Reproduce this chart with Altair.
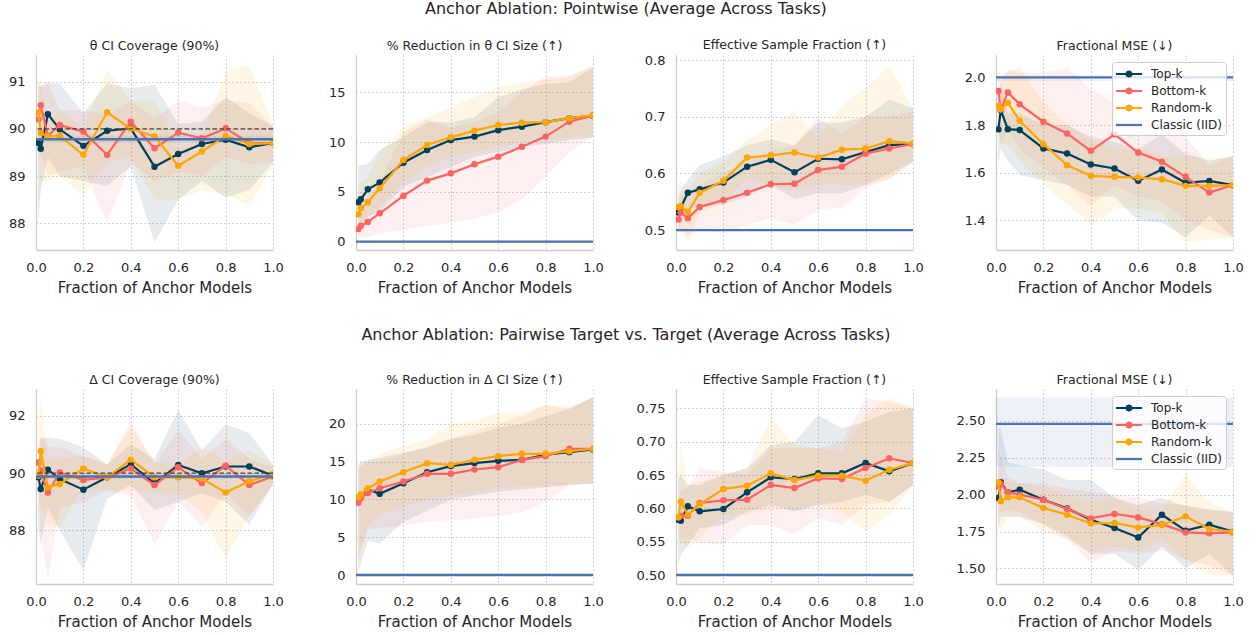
import altair as alt
import pandas as pd

# ---------------- data ----------------
X = [0.01, 0.02, 0.05, 0.1, 0.2, 0.3, 0.4, 0.5, 0.6, 0.7, 0.8, 0.9, 1.0]
X_SPAN = [0.0, 1.0]
X_TICKS = [0.0, 0.2, 0.4, 0.6, 0.8, 1.0]
SERIES = ["Top-k", "Bottom-k", "Random-k", "Classic (IID)"]
COLORS = ["#003f5c", "#ff6361", "#ffa600", "#4c72b0"]

# Row 1 : Pointwise
pt_cov_top = [89.70, 89.58, 90.31, 89.99, 89.64, 89.96, 90.01, 89.20, 89.47, 89.68, 89.77, 89.61, 89.70]
pt_cov_top_lo = [88.10, 88.70, 89.40, 89.00, 88.90, 88.80, 89.20, 87.60, 88.50, 88.90, 88.55, 88.70, 89.30]
pt_cov_top_hi = [90.90, 90.90, 90.96, 90.96, 90.33, 90.96, 90.86, 90.93, 90.10, 90.15, 90.68, 90.33, 90.05]
pt_cov_bot = [90.20, 90.50, 89.85, 90.08, 89.94, 89.45, 90.15, 89.59, 89.92, 89.80, 90.01, 89.70, 89.70]
pt_cov_bot_lo = [89.20, 89.50, 89.00, 89.10, 89.20, 88.00, 89.30, 88.90, 89.10, 89.00, 89.40, 89.25, 89.30]
pt_cov_bot_hi = [91.00, 90.90, 91.00, 90.40, 90.40, 90.30, 90.60, 90.20, 90.60, 90.45, 90.60, 90.55, 90.05]
pt_cov_rnd = [90.35, 89.91, 89.84, 89.85, 89.45, 90.35, 90.00, 89.84, 89.22, 89.52, 89.85, 89.68, 89.70]
pt_cov_rnd_lo = [87.80, 88.90, 88.90, 89.00, 88.60, 89.30, 89.40, 88.50, 88.50, 88.70, 88.60, 88.40, 89.20]
pt_cov_rnd_hi = [91.00, 91.00, 90.20, 90.40, 90.00, 91.25, 90.60, 90.60, 89.60, 89.80, 91.20, 91.35, 90.10]
pt_cov_classic = [89.78, 89.70, 89.86]

pt_red_top = [3.95, 4.25, 5.26, 5.93, 7.93, 9.20, 10.20, 10.55, 11.20, 11.55, 12.00, 12.40, 12.65]
pt_red_top_lo = [0.5, 1.5, 2.5, 3.0, 5.5, 6.5, 7.5, 8.5, 9.0, 9.5, 9.8, 10.2, 10.4]
pt_red_top_hi = [7.7, 7.7, 7.8, 9.2, 10.5, 12.0, 12.0, 12.5, 14.5, 15.3, 15.8, 16.0, 17.5]
pt_red_bot = [1.27, 1.57, 1.98, 2.85, 4.59, 6.13, 6.86, 7.77, 8.54, 9.54, 10.55, 12.05, 12.65]
pt_red_bot_lo = [0.3, 0.4, 0.5, 0.8, 1.2, 1.6, 1.9, 2.3, 3.0, 4.2, 6.5, 9.0, 10.5]
pt_red_bot_hi = [3.5, 3.8, 4.5, 6.0, 11.0, 12.3, 11.5, 12.0, 13.0, 15.0, 16.6, 16.7, 17.5]
pt_red_rnd = [2.75, 3.35, 3.95, 5.36, 8.20, 9.71, 10.48, 11.15, 11.72, 11.95, 12.00, 12.40, 12.72]
pt_red_rnd_lo = [1.0, 1.5, 2.5, 3.5, 6.0, 7.5, 8.5, 9.0, 9.5, 10.0, 10.2, 10.4, 10.5]
pt_red_rnd_hi = [5.5, 6.0, 6.5, 9.0, 11.5, 12.5, 13.5, 14.5, 15.5, 16.0, 16.3, 16.5, 17.8]
pt_red_classic = [0.0, 0.0, 0.0]

pt_esf_top = [0.531, 0.540, 0.566, 0.572, 0.584, 0.612, 0.624, 0.602, 0.626, 0.625, 0.638, 0.650, 0.652]
pt_esf_top_lo = [0.50, 0.51, 0.54, 0.54, 0.545, 0.56, 0.58, 0.555, 0.565, 0.565, 0.58, 0.60, 0.62]
pt_esf_top_hi = [0.56, 0.57, 0.59, 0.615, 0.63, 0.65, 0.66, 0.65, 0.69, 0.69, 0.70, 0.73, 0.715]
pt_esf_bot = [0.519, 0.531, 0.521, 0.541, 0.553, 0.566, 0.581, 0.582, 0.606, 0.612, 0.635, 0.644, 0.652]
pt_esf_bot_lo = [0.49, 0.50, 0.49, 0.50, 0.495, 0.51, 0.52, 0.51, 0.535, 0.54, 0.575, 0.59, 0.62]
pt_esf_bot_hi = [0.55, 0.56, 0.56, 0.58, 0.60, 0.62, 0.64, 0.65, 0.70, 0.67, 0.70, 0.70, 0.71]
pt_esf_rnd = [0.541, 0.542, 0.532, 0.566, 0.587, 0.628, 0.632, 0.637, 0.628, 0.642, 0.644, 0.657, 0.653]
pt_esf_rnd_lo = [0.50, 0.50, 0.48, 0.53, 0.55, 0.59, 0.58, 0.57, 0.58, 0.58, 0.58, 0.59, 0.625]
pt_esf_rnd_hi = [0.58, 0.59, 0.57, 0.60, 0.62, 0.66, 0.685, 0.71, 0.66, 0.72, 0.75, 0.79, 0.715]
pt_esf_classic = [0.5, 0.5, 0.5]

pt_mse_top = [1.782, 1.863, 1.783, 1.779, 1.702, 1.681, 1.635, 1.618, 1.566, 1.614, 1.558, 1.566, 1.548]
pt_mse_top_lo = [1.63, 1.70, 1.65, 1.59, 1.57, 1.55, 1.50, 1.50, 1.40, 1.39, 1.33, 1.42, 1.33]
pt_mse_top_hi = [1.90, 1.98, 1.85, 1.85, 1.80, 1.80, 1.75, 1.73, 1.70, 1.76, 1.68, 1.65, 1.67]
pt_mse_bot = [1.943, 1.866, 1.937, 1.887, 1.814, 1.765, 1.692, 1.761, 1.685, 1.646, 1.583, 1.517, 1.548]
pt_mse_bot_lo = [1.80, 1.72, 1.78, 1.70, 1.62, 1.55, 1.46, 1.55, 1.50, 1.48, 1.40, 1.36, 1.33]
pt_mse_bot_hi = [2.05, 2.00, 2.03, 2.02, 2.02, 2.04, 1.95, 1.90, 1.80, 1.80, 1.75, 1.63, 1.67]
pt_mse_rnd = [1.880, 1.866, 1.894, 1.818, 1.720, 1.632, 1.587, 1.583, 1.580, 1.573, 1.545, 1.545, 1.548]
pt_mse_rnd_lo = [1.75, 1.72, 1.72, 1.65, 1.55, 1.47, 1.38, 1.45, 1.45, 1.43, 1.31, 1.32, 1.33]
pt_mse_rnd_hi = [1.98, 1.98, 2.03, 2.04, 1.90, 1.80, 1.74, 1.70, 1.70, 1.67, 1.67, 1.66, 1.66]
pt_mse_classic = [2.0, 1.985, 2.008]

# Row 2 : Pairwise target vs. target
pw_cov_top = [89.85, 89.44, 90.12, 89.79, 89.42, 89.85, 90.31, 89.64, 90.28, 89.99, 90.23, 90.23, 89.91]
pw_cov_top_lo = [88.0, 87.5, 88.8, 88.0, 86.6, 89.1, 89.6, 88.7, 89.0, 89.3, 89.0, 88.2, 89.6]
pw_cov_top_hi = [90.5, 91.2, 91.25, 91.2, 90.9, 90.3, 91.0, 90.5, 92.2, 90.8, 91.7, 91.4, 90.3]
pw_cov_bot = [90.37, 90.08, 89.32, 90.02, 89.76, 89.85, 90.16, 89.58, 90.20, 89.64, 90.26, 89.58, 89.88]
pw_cov_bot_lo = [89.5, 88.0, 86.3, 88.8, 89.0, 89.4, 89.2, 87.5, 89.0, 88.1, 89.3, 88.5, 89.6]
pw_cov_bot_hi = [91.0, 91.3, 90.9, 90.9, 90.6, 90.3, 91.8, 90.3, 91.5, 90.5, 91.2, 90.5, 90.2]
pw_cov_rnd = [89.91, 90.76, 89.50, 89.62, 90.16, 89.85, 90.47, 89.85, 89.85, 89.81, 89.32, 89.71, 89.96]
pw_cov_rnd_lo = [88.5, 89.0, 88.2, 88.1, 89.5, 89.4, 89.4, 89.3, 89.3, 88.6, 87.0, 88.5, 89.6]
pw_cov_rnd_hi = [91.5, 92.7, 90.5, 90.5, 90.6, 90.3, 91.6, 90.4, 90.3, 90.9, 90.4, 90.8, 90.3]
pw_cov_classic = [89.88, 89.80, 89.96]

pw_red_top = [10.07, 10.50, 11.30, 10.73, 12.14, 13.60, 14.40, 14.80, 15.10, 15.23, 15.90, 16.25, 16.60]
pw_red_top_lo = [0.5, 1.5, 4.5, 4.2, 7.0, 8.5, 10.0, 10.5, 11.0, 11.3, 11.6, 11.9, 12.1]
pw_red_top_hi = [14.5, 15.0, 15.2, 15.5, 16.2, 16.8, 18.0, 18.5, 19.5, 20.0, 21.0, 22.0, 23.5]
pw_red_bot = [9.54, 10.15, 10.86, 11.48, 12.36, 13.38, 13.38, 13.95, 14.26, 15.23, 15.72, 16.69, 16.69]
pw_red_bot_lo = [2.0, 3.5, 6.0, 6.2, 6.5, 7.0, 7.2, 7.5, 7.8, 8.3, 9.7, 11.9, 12.1]
pw_red_bot_hi = [14.0, 14.5, 14.8, 15.0, 16.0, 17.0, 18.0, 19.0, 20.0, 21.0, 22.5, 22.0, 23.5]
pw_red_rnd = [10.29, 10.64, 11.48, 12.36, 13.60, 14.79, 14.57, 15.23, 15.72, 16.03, 16.03, 16.38, 16.69]
pw_red_rnd_lo = [1.5, 3.0, 6.5, 8.0, 9.0, 10.0, 10.5, 11.0, 11.5, 11.7, 11.8, 12.0, 12.1]
pw_red_rnd_hi = [14.0, 14.5, 15.0, 16.0, 17.0, 18.0, 20.0, 20.5, 21.5, 21.5, 22.5, 22.2, 23.5]
pw_red_classic = [0.0, 0.0, 0.0]

pw_esf_top = [0.583, 0.5815, 0.603, 0.5955, 0.599, 0.624, 0.6465, 0.644, 0.6525, 0.6525, 0.668, 0.6555, 0.668]
pw_esf_top_lo = [0.515, 0.53, 0.545, 0.57, 0.575, 0.595, 0.605, 0.595, 0.605, 0.61, 0.62, 0.61, 0.635]
pw_esf_top_hi = [0.645, 0.65, 0.635, 0.635, 0.65, 0.66, 0.695, 0.70, 0.74, 0.72, 0.73, 0.745, 0.75]
pw_esf_bot = [0.5865, 0.589, 0.589, 0.608, 0.612, 0.613, 0.635, 0.6305, 0.645, 0.644, 0.6605, 0.675, 0.668]
pw_esf_bot_lo = [0.555, 0.555, 0.555, 0.548, 0.545, 0.575, 0.575, 0.562, 0.585, 0.575, 0.605, 0.61, 0.635]
pw_esf_bot_hi = [0.62, 0.625, 0.63, 0.66, 0.655, 0.65, 0.69, 0.69, 0.69, 0.70, 0.765, 0.76, 0.75]
pw_esf_rnd = [0.5865, 0.610, 0.5905, 0.606, 0.629, 0.634, 0.6525, 0.6425, 0.649, 0.649, 0.6415, 0.658, 0.668]
pw_esf_rnd_lo = [0.535, 0.55, 0.54, 0.555, 0.59, 0.59, 0.60, 0.60, 0.605, 0.595, 0.565, 0.59, 0.635]
pw_esf_rnd_hi = [0.64, 0.70, 0.635, 0.64, 0.65, 0.66, 0.735, 0.695, 0.69, 0.685, 0.74, 0.765, 0.75]
pw_esf_classic = [0.5, 0.5, 0.5]

pw_mse_top = [1.977, 2.084, 2.016, 2.034, 1.966, 1.907, 1.830, 1.774, 1.710, 1.864, 1.756, 1.796, 1.749]
pw_mse_top_lo = [1.75, 1.85, 1.85, 1.85, 1.80, 1.72, 1.60, 1.60, 1.49, 1.65, 1.50, 1.60, 1.45]
pw_mse_top_hi = [2.45, 2.45, 2.22, 2.20, 2.17, 2.10, 2.10, 1.98, 1.93, 1.98, 1.92, 1.90, 1.88]
pw_mse_bot = [2.054, 2.072, 2.016, 2.000, 1.966, 1.903, 1.839, 1.869, 1.846, 1.800, 1.744, 1.738, 1.744]
pw_mse_bot_lo = [1.85, 1.88, 1.90, 1.88, 1.80, 1.70, 1.54, 1.62, 1.60, 1.62, 1.56, 1.52, 1.45]
pw_mse_bot_hi = [2.30, 2.25, 2.12, 2.08, 2.08, 2.04, 2.02, 2.00, 1.98, 1.94, 1.93, 1.90, 1.88]
pw_mse_rnd = [2.084, 1.955, 1.982, 1.982, 1.910, 1.864, 1.805, 1.808, 1.778, 1.794, 1.853, 1.767, 1.749]
pw_mse_rnd_lo = [1.80, 1.75, 1.85, 1.85, 1.75, 1.70, 1.60, 1.65, 1.62, 1.70, 1.56, 1.45, 1.45]
pw_mse_rnd_hi = [2.25, 2.10, 2.08, 2.08, 2.05, 2.00, 1.95, 1.98, 1.90, 1.90, 2.14, 1.95, 1.88]
pw_mse_classic = [2.48, 2.19, 2.66]

NOMINAL = [90.0]

# ---------------- helpers ----------------
# legend glyphs (line with a dot / plain line); scaled by sqrt(symbolSize)/2 = 8 px per unit
DOT_LINE = ("M-1.625,-0.14H1.625V0.14H-1.625Z"
            "M0.45,0A0.45,0.45,0,1,1,-0.45,0A0.45,0.45,0,1,1,0.45,0Z")
LINE_ONLY = "M-1.625,-0.14H1.625V0.14H-1.625Z"
SYMBOL_SIZE = 256
FONT = "DejaVu Sans"
TXT = "#262626"
W, H = 237, 195


def make_df(top, top_lo, top_hi, bot, bot_lo, bot_hi, rnd, rnd_lo, rnd_hi, classic):
    rows = []
    for name, m, lo, hi in [("Top-k", top, top_lo, top_hi),
                            ("Bottom-k", bot, bot_lo, bot_hi),
                            ("Random-k", rnd, rnd_lo, rnd_hi)]:
        for x, a, b, c in zip(X, m, lo, hi):
            rows.append({"x": x, "y": a, "lo": b, "hi": c, "series": name})
    for x in X_SPAN:
        rows.append({"x": x, "y": classic[0], "lo": classic[1], "hi": classic[2],
                     "series": "Classic (IID)"})
    return pd.DataFrame(rows)


def legend_def():
    return alt.Legend(title=None, orient="top-right", offset=7,
                      fillColor="rgba(255,255,255,0.8)", strokeColor="#cccccc",
                      cornerRadius=3, padding=4, labelFontSize=12, labelColor=TXT,
                      labelFont=FONT, symbolSize=SYMBOL_SIZE, symbolStrokeWidth=0,
                      symbolOffset=5, rowPadding=3, labelOffset=14, symbolOpacity=1)


def panel(title, df, domain, ticks, fmt, nominal=False, legend=False):
    cscale = alt.Scale(domain=SERIES, range=COLORS)
    color = alt.Color("series:N", scale=cscale, legend=legend_def() if legend else None)
    xenc = alt.X("x:Q", scale=alt.Scale(domain=[0, 1], nice=False, zero=False),
                 axis=alt.Axis(values=X_TICKS, format=".1f", labelFlush=False,
                               title="Fraction of Anchor Models"))
    yscale = alt.Scale(domain=domain, nice=False, zero=False)
    yaxis = alt.Axis(values=ticks, format=fmt, title=None, labelFlush=False)

    base = alt.Chart(df)
    layers = [
        base.mark_area(fillOpacity=0.1, strokeWidth=0, clip=True).encode(
            x=xenc, y=alt.Y("lo:Q", scale=yscale, axis=yaxis), y2="hi:Q", color=color)
    ]
    for s in SERIES[:3]:
        sub = base.transform_filter(alt.datum.series == s)
        layers.append(sub.mark_line(strokeWidth=2.2, clip=True).encode(
            x=xenc, y=alt.Y("y:Q", scale=yscale, axis=yaxis), color=color))
        layers.append(sub.mark_point(filled=True, size=42, opacity=1, clip=True).encode(
            x=xenc, y=alt.Y("y:Q", scale=yscale, axis=yaxis), color=color))
    layers.append(base.transform_filter(alt.datum.series == SERIES[3])
                  .mark_line(strokeWidth=2.3, clip=True).encode(
                      x=xenc, y=alt.Y("y:Q", scale=yscale, axis=yaxis), color=color))
    if nominal:
        layers.append(alt.Chart(pd.DataFrame({"v": NOMINAL})).mark_rule(
            strokeDash=[4.5, 2.5], color="#444444", strokeWidth=1.3).encode(
                y=alt.Y("v:Q", scale=yscale, axis=yaxis)))
    if legend:
        shape_scale = alt.Scale(domain=SERIES, range=[DOT_LINE, DOT_LINE, DOT_LINE, LINE_ONLY])
        leg = legend_def()
        layers.append(alt.Chart(pd.DataFrame({"series": SERIES})).mark_point(
            filled=True, size=SYMBOL_SIZE, strokeWidth=0, opacity=1, clip=True).encode(
                x=alt.value(-1000), y=alt.value(-1000),
                color=alt.Color("series:N", scale=cscale, legend=leg),
                shape=alt.Shape("series:N", scale=shape_scale, legend=leg)))
    return alt.layer(*layers).properties(
        width=W, height=H,
        title=alt.TitleParams(title, fontSize=12.5, fontWeight="normal", color=TXT,
                              font=FONT, offset=3, anchor="middle", frame="group"))


p1 = panel("θ CI Coverage (90%)",
           make_df(pt_cov_top, pt_cov_top_lo, pt_cov_top_hi, pt_cov_bot, pt_cov_bot_lo, pt_cov_bot_hi,
                   pt_cov_rnd, pt_cov_rnd_lo, pt_cov_rnd_hi, pt_cov_classic),
           [87.44, 91.56], [88, 89, 90, 91], "d", nominal=True)
p2 = panel("% Reduction in θ CI Size (↑)",
           make_df(pt_red_top, pt_red_top_lo, pt_red_top_hi, pt_red_bot, pt_red_bot_lo, pt_red_bot_hi,
                   pt_red_rnd, pt_red_rnd_lo, pt_red_rnd_hi, pt_red_classic),
           [-0.84, 18.75], [0, 5, 10, 15], "d")
p3 = panel("Effective Sample Fraction (↑)",
           make_df(pt_esf_top, pt_esf_top_lo, pt_esf_top_hi, pt_esf_bot, pt_esf_bot_lo, pt_esf_bot_hi,
                   pt_esf_rnd, pt_esf_rnd_lo, pt_esf_rnd_hi, pt_esf_classic),
           [0.465, 0.809], [0.5, 0.6, 0.7, 0.8], ".1f")
p4 = panel("Fractional MSE (↓)",
           make_df(pt_mse_top, pt_mse_top_lo, pt_mse_top_hi, pt_mse_bot, pt_mse_bot_lo, pt_mse_bot_hi,
                   pt_mse_rnd, pt_mse_rnd_lo, pt_mse_rnd_hi, pt_mse_classic),
           [1.276, 2.094], [1.4, 1.6, 1.8, 2.0], ".1f", legend=True)

p5 = panel("Δ CI Coverage (90%)",
           make_df(pw_cov_top, pw_cov_top_lo, pw_cov_top_hi, pw_cov_bot, pw_cov_bot_lo, pw_cov_bot_hi,
                   pw_cov_rnd, pw_cov_rnd_lo, pw_cov_rnd_hi, pw_cov_classic),
           [86.12, 92.94], [88, 90, 92], "d", nominal=True)
p6 = panel("% Reduction in Δ CI Size (↑)",
           make_df(pw_red_top, pw_red_top_lo, pw_red_top_hi, pw_red_bot, pw_red_bot_lo, pw_red_bot_hi,
                   pw_red_rnd, pw_red_rnd_lo, pw_red_rnd_hi, pw_red_classic),
           [-1.19, 24.6], [0, 5, 10, 15, 20], "d")
p7 = panel("Effective Sample Fraction (↑)",
           make_df(pw_esf_top, pw_esf_top_lo, pw_esf_top_hi, pw_esf_bot, pw_esf_bot_lo, pw_esf_bot_hi,
                   pw_esf_rnd, pw_esf_rnd_lo, pw_esf_rnd_hi, pw_esf_classic),
           [0.4865, 0.779], [0.50, 0.55, 0.60, 0.65, 0.70, 0.75], ".2f")
p8 = panel("Fractional MSE (↓)",
           make_df(pw_mse_top, pw_mse_top_lo, pw_mse_top_hi, pw_mse_bot, pw_mse_bot_lo, pw_mse_bot_hi,
                   pw_mse_rnd, pw_mse_rnd_lo, pw_mse_rnd_hi, pw_mse_classic),
           [1.394, 2.717], [1.50, 1.75, 2.00, 2.25, 2.50], ".2f", legend=True)

row1 = alt.hconcat(p1, p2, p3, p4, spacing=83, bounds="flush",
                   title=alt.TitleParams("Anchor Ablation: Pointwise (Average Across Tasks)",
                                         fontSize=16, fontWeight="normal", color=TXT, font=FONT,
                                         anchor="middle", offset=21)
                   ).resolve_scale(color="independent", shape="independent")
row2 = alt.hconcat(p5, p6, p7, p8, spacing=83, bounds="flush",
                   title=alt.TitleParams("Anchor Ablation: Pairwise Target vs. Target (Average Across Tasks)",
                                         fontSize=16, fontWeight="normal", color=TXT, font=FONT,
                                         anchor="middle", offset=30)
                   ).resolve_scale(color="independent", shape="independent")

chart = alt.vconcat(row1, row2, spacing=31).resolve_scale(
    color="independent", shape="independent"
).properties(
    padding={"left": 7, "top": 1, "right": 5, "bottom": 5}
).configure(font=FONT).configure_view(stroke="transparent").configure_axis(
    grid=True, gridColor="#c4c4c4", gridDash=[1.5, 2.5], gridWidth=1,
    domainColor="#cccccc", domainWidth=1.3, ticks=False, tickSize=0,
    labelFontSize=13, labelColor=TXT, labelFont=FONT, labelPadding=11,
    titleFontSize=15, titleFontWeight="normal", titleColor=TXT, titleFont=FONT, titlePadding=6
)

chart.save("out.html", embed_options={"renderer": "svg", "actions": False})
